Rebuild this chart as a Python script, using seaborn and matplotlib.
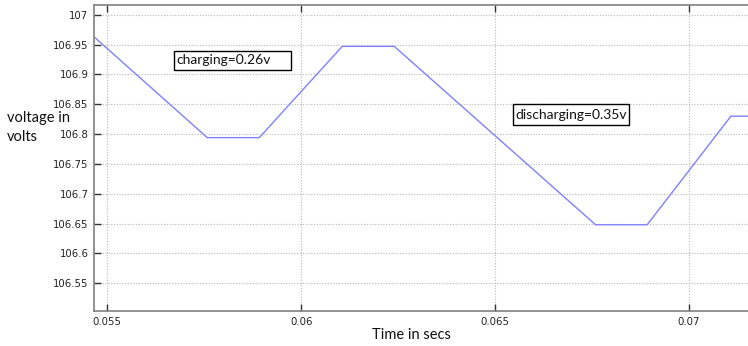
import matplotlib
matplotlib.use("Agg")
import matplotlib.pyplot as plt
from matplotlib.patches import Rectangle
import seaborn as sns
import pandas as pd

# Capacitor voltage trace: breakpoints of the charge/discharge cycle
time_s = [0.05466, 0.05758, 0.05892, 0.06106, 0.06240, 0.06759, 0.06892, 0.07108, 0.07152]
voltage_v = [106.963, 106.794, 106.794, 106.947, 106.947, 106.648, 106.648, 106.830, 106.830]

x_ticks = [0.055, 0.06, 0.065, 0.07]
x_tick_labels = ["0.055", "0.06", "0.065", "0.07"]
y_ticks = [106.55, 106.6, 106.65, 106.7, 106.75, 106.8, 106.85, 106.9, 106.95, 107.0]
y_tick_labels = ["106.55", "106.6", "106.65", "106.7", "106.75", "106.8", "106.85", "106.9", "106.95", "107"]

notes = ["charging=0.26v", "discharging=0.35v"]

sns.set_theme(style="white")
plt.rcParams["font.family"] = ["DejaVu Sans"]

df = pd.DataFrame({"time": time_s, "voltage": voltage_v})

fig = plt.figure(figsize=(7.48, 3.46), dpi=100)
ax = fig.add_axes([0.1257, 0.1012, 0.8743, 0.8843])

sns.lineplot(data=df, x="time", y="voltage", ax=ax, color="#8080ff", linewidth=1.0)

ax.set_xlim(0.05466, 0.07152)
ax.set_ylim(106.5035, 107.0163)
ax.set_xticks(x_ticks)
ax.set_xticklabels(x_tick_labels)
ax.set_yticks(y_ticks)
ax.set_yticklabels(y_tick_labels)
ax.tick_params(axis="both", direction="in", length=5, width=1, colors="#333333",
               labelsize=7.3, labelcolor="#222222", top=True, right=False,
               left=True, bottom=True, pad=4)
ax.grid(True, which="major", color="#b8b8b8", linestyle=(0, (1, 1.5)), linewidth=0.8)

for side in ["left", "bottom", "top"]:
    ax.spines[side].set_color("#808080")
    ax.spines[side].set_linewidth(1.2)
ax.spines["right"].set_visible(False)

ax.set_xlabel("Time in secs", fontfamily="Lato", fontsize=10.5, color="#111111")
ax.xaxis.set_label_coords(0.486, -0.055)
ax.set_ylabel("")
fig.text(0.009, 0.659, "voltage in", fontfamily="Lato", fontsize=10.5,
         color="#111111", ha="left", va="center")
fig.text(0.009, 0.603, "volts", fontfamily="Lato", fontsize=10.5,
         color="#111111", ha="left", va="center")

# Annotation boxes
boxes = [(0.056727, 106.9072, 0.059734 - 0.056727, 106.9396 - 106.9072),
         (0.065455, 106.8144, 0.068460 - 0.065455, 106.8497 - 106.8144)]
for (bx, by, bw, bh), label in zip(boxes, notes):
    ax.add_patch(Rectangle((bx, by), bw, bh, facecolor="white", edgecolor="black",
                           linewidth=1.0, zorder=5))
    ax.text(bx + 0.00006, by + bh / 2, label, fontfamily="Lato", fontsize=10,
            color="#111111", ha="left", va="center", zorder=6)

fig.savefig("out.png", dpi=100)
